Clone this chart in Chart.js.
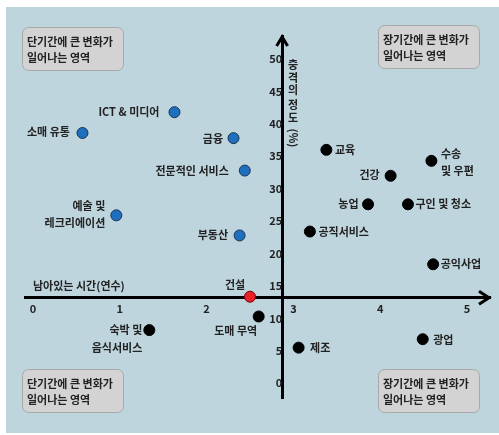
<!DOCTYPE html>
<html>
<head>
<meta charset="utf-8">
<script src="https://cdn.jsdelivr.net/npm/chart.js@4.4.0/dist/chart.umd.min.js"></script>
<style>
  html, body { margin: 0; padding: 0; background: #fff; }
  canvas { display: block; }
</style>
</head>
<body>
<canvas id="impact-chart" width="499" height="435"></canvas>
<script>
const impactChart = document.getElementById('impact-chart');

// 단기간 변화 (파랑)
const shortNames = ['ICT & 미디어', '소매 유통', '금융', '전문적인 서비스', '예술 및\n레크리에이션', '부동산'];
const shortYears = [1.63, 0.57, 2.31, 2.44, 0.96, 2.38];
const shortImpact = [41.8, 38.6, 37.8, 32.8, 25.9, 22.8];

// 기준점 (빨강)
const pivotNames = ['건설'];
const pivotYears = [2.5];
const pivotImpact = [13.35];

// 장기간 변화 (검정)
const longNames = ['숙박 및\n음식서비스', '도매 무역', '제조', '광업', '공익사업', '공직서비스', '농업', '구인 및 청소', '건강', '교육', '수송\n및 우편'];
const longYears = [1.34, 2.6, 3.06, 4.49, 4.61, 3.19, 3.86, 4.32, 4.12, 3.38, 4.59];
const longImpact = [8.2, 10.3, 5.5, 6.8, 18.35, 23.4, 27.6, 27.6, 32.0, 36.0, 34.3];

const xTicks = [0, 1, 2, 3, 4, 5];
const yTicks = [0, 5, 10, 15, 20, 25, 30, 35, 40, 45, 50];
const xTitle = '남아있는 시간(연수)';
const yTitle = ['충', '격', '의', ' ', '정', '도', '(%)'];
const shortText = ['단기간에 큰 변화가', '일어나는 영역'];
const longText = ['장기간에 큰 변화가', '일어나는 영역'];

// where the axes cross each other
const xAxisAt = 13.2;
const yAxisAt = 2.87;

// label placement per point: [dx, dy, align]
const shortLabelPos = [[-15, 0, 'right'], [-12.5, -1.5, 'right'], [-10.5, 0.5, 'right'], [-16, 0, 'right'], [-11, -10, 'right'], [-11.5, -0.5, 'right']];
const pivotLabelPos = [[-15, -12, 'center']];
const longLabelPos = [[-7, 0, 'right'], [-23, 14.5, 'center'], [11.5, 0.5, 'left'], [10.5, 1, 'left'], [7.5, 0, 'left'], [8.5, 0, 'left'], [-9.5, 0, 'right'], [7.5, 0, 'left'], [-11, -1, 'right'], [8.5, 0, 'left'], [9.5, -7.5, 'left']];

const FONT = '"Noto Sans CJK KR", "Noto Sans", sans-serif';
const TEXT = '#222';

const toPoints = (xs, ys) => xs.map((x, i) => ({x: x, y: ys[i]}));

function roundBox(ctx, x, y, w, h, r) {
    ctx.beginPath();
    ctx.moveTo(x + r, y);
    ctx.arcTo(x + w, y, x + w, y + h, r);
    ctx.arcTo(x + w, y + h, x, y + h, r);
    ctx.arcTo(x, y + h, x, y, r);
    ctx.arcTo(x, y, x + w, y, r);
    ctx.closePath();
}

const decor = {
    id: 'decor',
    beforeDraw(chart) {
        const ctx = chart.ctx;
        ctx.save();
        ctx.fillStyle = '#bfd5de';
        ctx.fillRect(6, 7, 493, 426);

        // quadrant notes
        const boxes = [[22, 27, shortText], [378, 25, longText], [22, 369, shortText], [378, 369, longText]];
        ctx.font = 'bold 11px ' + FONT;
        ctx.textBaseline = 'middle';
        ctx.textAlign = 'left';
        boxes.forEach(([bx, by, lines]) => {
            roundBox(ctx, bx + 0.5, by + 0.5, 101, 43, 6);
            ctx.fillStyle = '#d3d3d3';
            ctx.fill();
            ctx.strokeStyle = '#a8a8a8';
            ctx.lineWidth = 1;
            ctx.stroke();
            ctx.fillStyle = TEXT;
            ctx.fillText(lines[0], bx + 5, by + 15);
            ctx.fillText(lines[1], bx + 5, by + 31);
        });
        ctx.restore();
    },
    afterDatasetsDraw(chart) {
        const ctx = chart.ctx;
        const {x, y} = chart.scales;
        const area = chart.chartArea;
        ctx.save();

        // arrow heads
        ctx.strokeStyle = '#000';
        ctx.lineWidth = 3;
        ctx.lineJoin = 'miter';
        const cy = y.getPixelForValue(xAxisAt);
        ctx.beginPath();
        ctx.moveTo(area.right - 11, cy - 6.5);
        ctx.lineTo(area.right - 1, cy);
        ctx.lineTo(area.right - 11, cy + 6.5);
        ctx.stroke();
        const cx = x.getPixelForValue(yAxisAt);
        ctx.beginPath();
        ctx.moveTo(cx - 5.5, area.top + 10);
        ctx.lineTo(cx, area.top + 1);
        ctx.lineTo(cx + 5.5, area.top + 10);
        ctx.stroke();

        ctx.fillStyle = TEXT;
        ctx.font = 'bold 11px ' + FONT;
        ctx.textBaseline = 'middle';

        // axis titles
        ctx.textAlign = 'left';
        ctx.fillText(xTitle, x.getPixelForValue(0), cy - 12);
        const ys = [65, 77.5, 90, 0, 105, 117.5, 138];
        yTitle.forEach((ch, i) => {
            if (ch === ' ') return;
            ctx.save();
            ctx.translate(cx + 11, ys[i]);
            if (ch.length > 1) ctx.rotate(Math.PI / 2);
            ctx.textAlign = 'center';
            ctx.fillText(ch, 0, 0);
            ctx.restore();
        });

        // point labels
        const groups = [[shortNames, shortLabelPos], [pivotNames, pivotLabelPos], [longNames, longLabelPos]];
        groups.forEach(([names, pos], d) => {
            const meta = chart.getDatasetMeta(d);
            meta.data.forEach((pt, i) => {
                const [dx, dy, align] = pos[i];
                ctx.textAlign = align;
                names[i].split('\n').forEach((line, k) => {
                    ctx.fillText(line, pt.x + dx, pt.y + dy + k * 17.5);
                });
            });
        });
        ctx.restore();
    }
};

const tickFont = {family: FONT, size: 11, weight: 'bold'};

const scatter = new Chart(impactChart, {
    type: 'scatter',
    data: {
        datasets: [{
            label: '단기간',
            data: toPoints(shortYears, shortImpact),
            backgroundColor: '#1f6fbf',
            borderColor: '#1b3350',
            borderWidth: 1,
            pointRadius: 5.5
        }, {
            label: '건설',
            data: toPoints(pivotYears, pivotImpact),
            backgroundColor: '#e8202a',
            borderColor: '#7a0000',
            borderWidth: 1,
            pointRadius: 5.5
        }, {
            label: '장기간',
            data: toPoints(longYears, longImpact),
            backgroundColor: '#000',
            borderColor: '#000',
            borderWidth: 1,
            pointRadius: 5.5
        }]
    },
    options: {
        responsive: false,
        animation: false,
        devicePixelRatio: 1,
        layout: {padding: {left: 25, right: 9, top: 36, bottom: 36.7}},
        plugins: {legend: {display: false}, tooltip: {enabled: false}},
        scales: {
            x: {
                type: 'linear',
                min: -0.0922,
                max: 5.265,
                position: {y: xAxisAt},
                grid: {display: false, drawTicks: false},
                border: {display: true, color: '#000', width: 3},
                ticks: {color: TEXT, font: tickFont, padding: 5, maxRotation: 0},
                afterBuildTicks: s => { s.ticks = xTicks.map(v => ({value: v})); }
            },
            y: {
                type: 'linear',
                min: -2.313,
                max: 53.55,
                position: {x: yAxisAt},
                grid: {display: false, drawTicks: false},
                border: {display: true, color: '#000', width: 3},
                ticks: {color: TEXT, font: tickFont, padding: 5},
                afterBuildTicks: s => { s.ticks = yTicks.map(v => ({value: v})); }
            }
        }
    },
    plugins: [decor]
});
</script>
</body>
</html>
